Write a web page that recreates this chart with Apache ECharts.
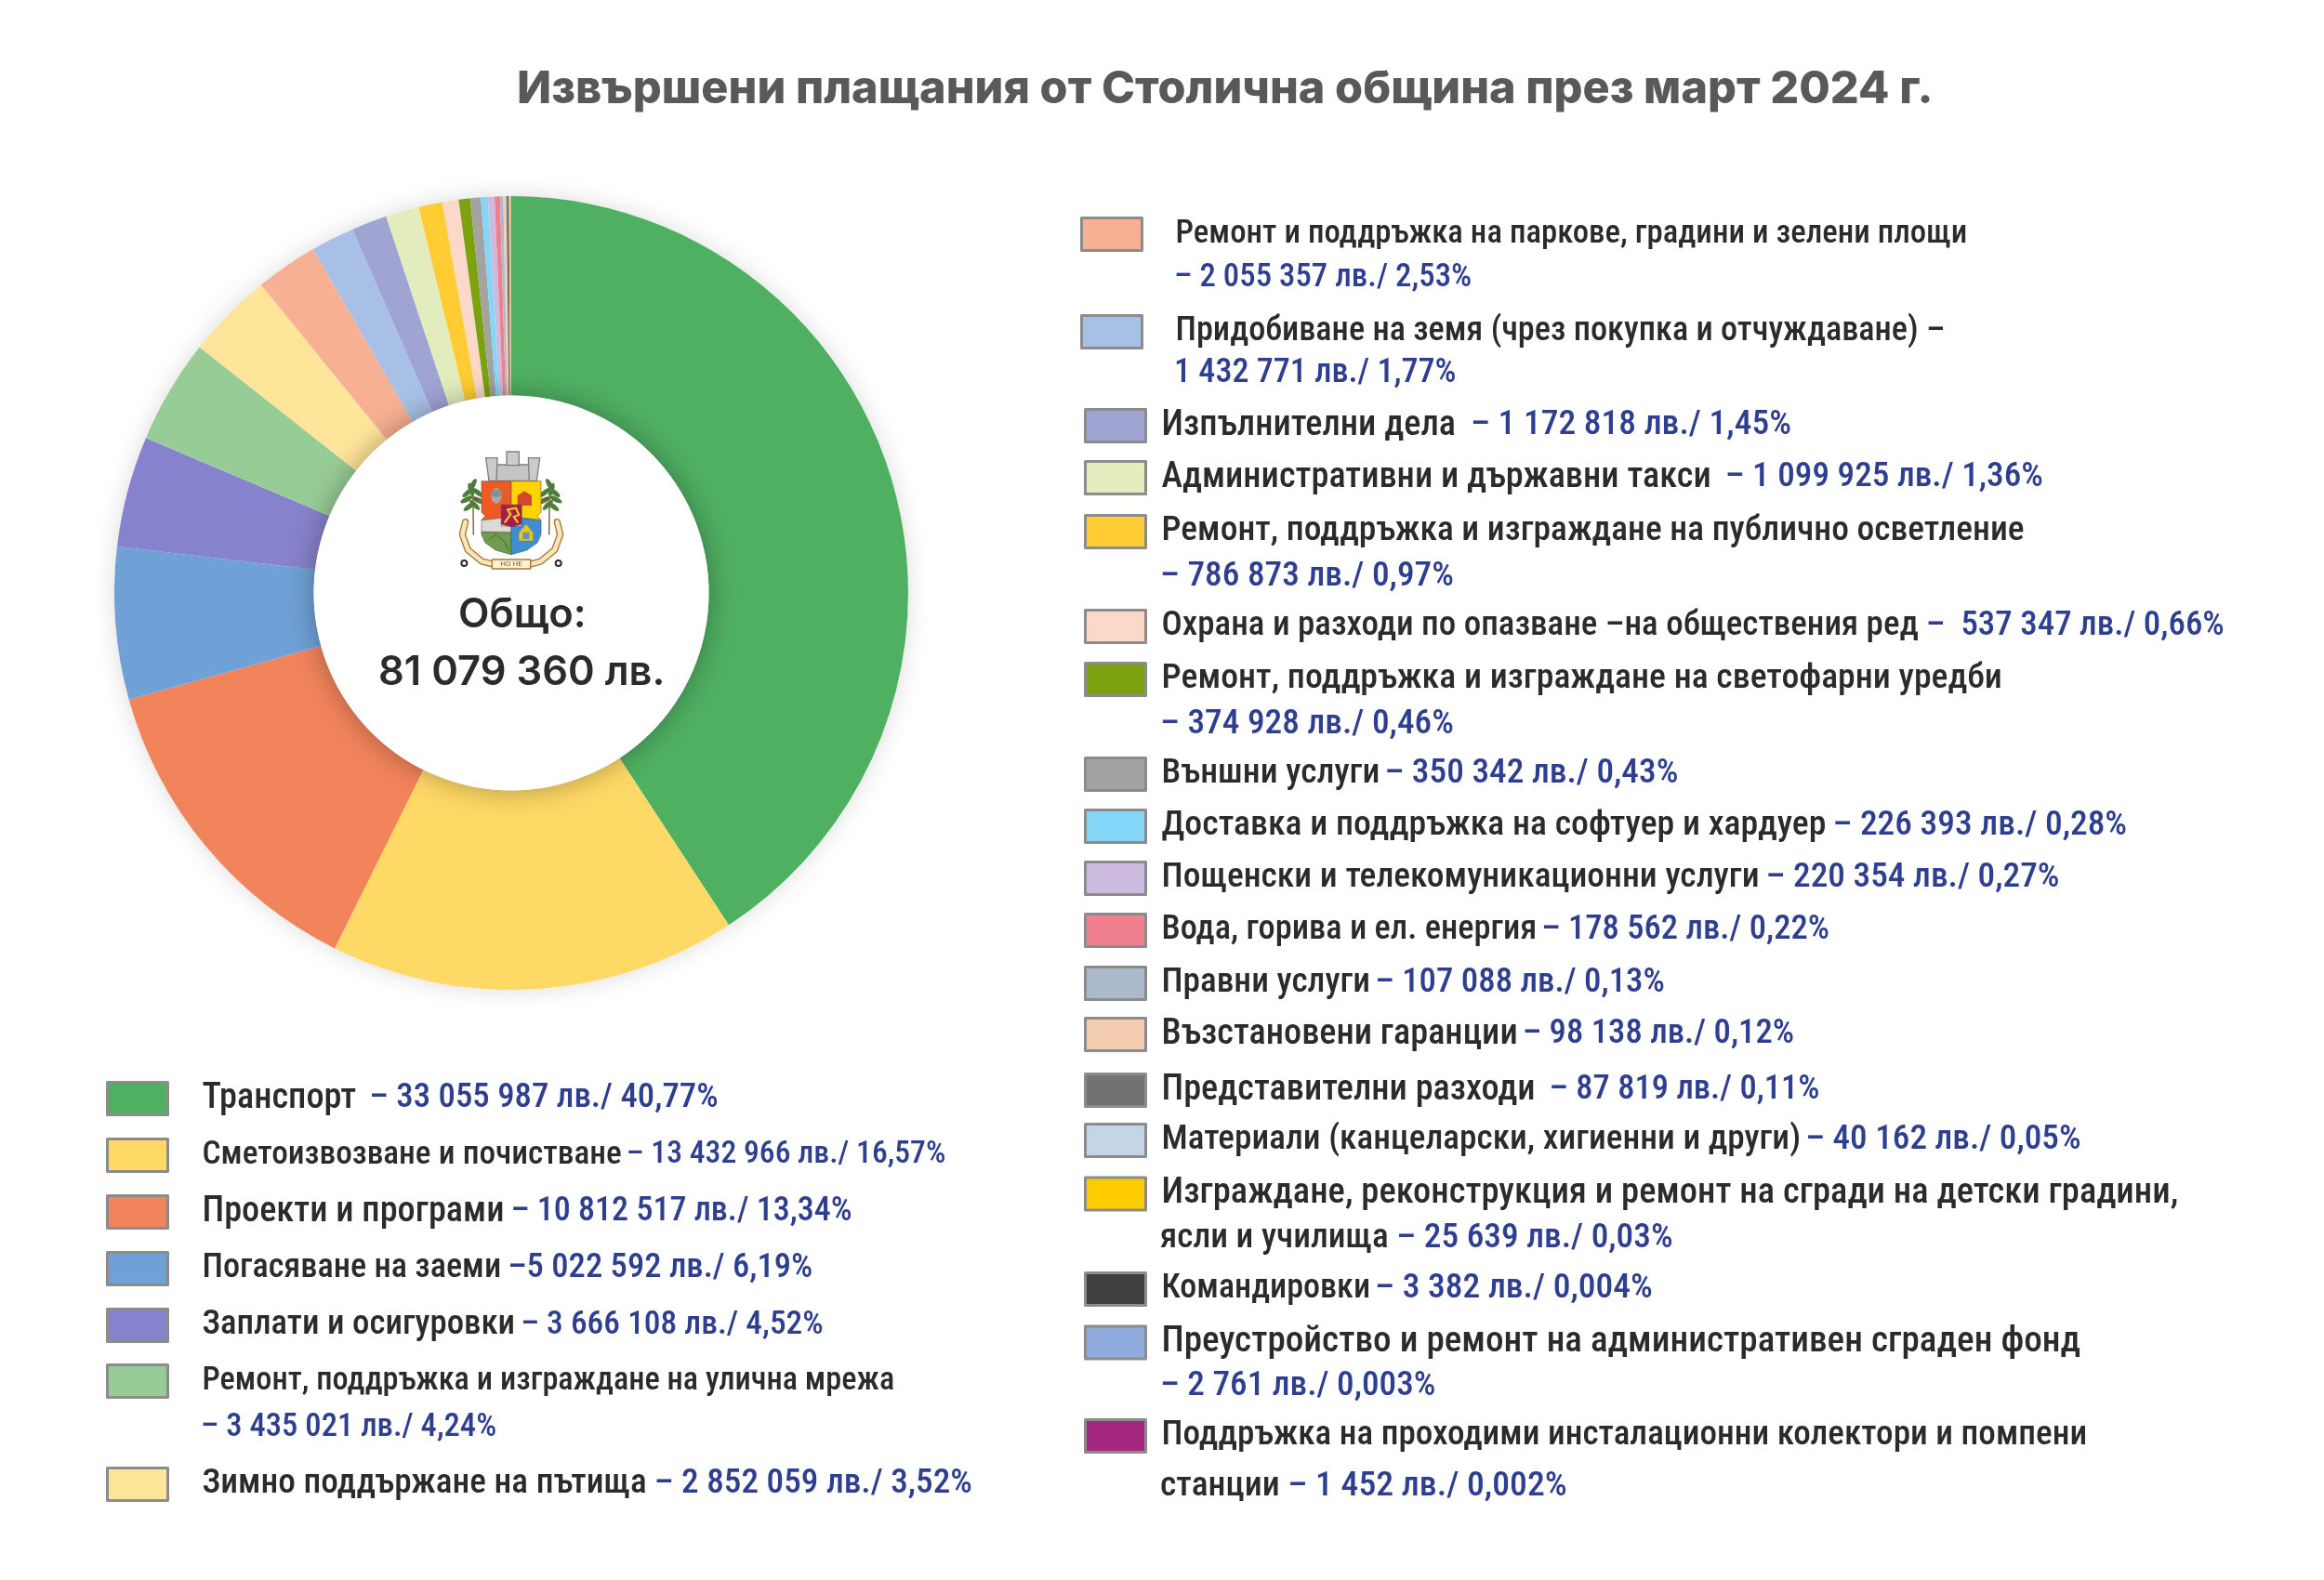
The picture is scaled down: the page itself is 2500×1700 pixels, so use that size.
<!DOCTYPE html>
<html lang="bg"><head><meta charset="utf-8">
<style>html,body{margin:0;padding:0;background:#fff}#c{width:2500px;height:1700px}</style>
<script src="https://cdn.jsdelivr.net/npm/echarts@6/dist/echarts.min.js"></script></head>
<body><div id="c"></div>
<script>
const categories=["Транспорт","Сметоизвозване и почистване","Проекти и програми","Погасяване на заеми","Заплати и осигуровки","Ремонт, поддръжка и изграждане на улична мрежа","Зимно поддържане на пътища","Ремонт и поддръжка на паркове, градини и зелени площи","Придобиване на земя (чрез покупка и отчуждаване) –","Изпълнителни дела","Административни и държавни такси","Ремонт, поддръжка и изграждане на публично осветление","Охрана и разходи по опазване –на обществения ред","Ремонт, поддръжка и изграждане на светофарни уредби","Външни услуги","Доставка и поддръжка на софтуер и хардуер","Пощенски и телекомуникационни услуги","Вода, горива и ел. енергия","Правни услуги","Възстановени гаранции","Представителни разходи","Материали (канцеларски, хигиенни и други)","Изграждане, реконструкция и ремонт на сгради на детски градини,","Командировки","Преустройство и ремонт на административен сграден фонд","Поддръжка на проходими инсталационни колектори и помпени"];
const values=[33055987,13432966,10812517,5022592,3666108,3435021,2852059,2055357,1432771,1172818,1099925,786873,537347,374928,350342,226393,220354,178562,107088,98138,87819,40162,25639,3382,2761,1452];
const amountTexts=["– 33 055 987 лв./ 40,77%","– 13 432 966 лв./ 16,57%","– 10 812 517 лв./ 13,34%","–5 022 592 лв./ 6,19%","– 3 666 108 лв./ 4,52%","– 3 435 021 лв./ 4,24%","– 2 852 059 лв./ 3,52%","– 2 055 357 лв./ 2,53%","1 432 771 лв./ 1,77%","– 1 172 818 лв./ 1,45%","– 1 099 925 лв./ 1,36%","– 786 873 лв./ 0,97%","–  537 347 лв./ 0,66%","– 374 928 лв./ 0,46%","– 350 342 лв./ 0,43%","– 226 393 лв./ 0,28%","– 220 354 лв./ 0,27%","– 178 562 лв./ 0,22%","– 107 088 лв./ 0,13%","– 98 138 лв./ 0,12%","– 87 819 лв./ 0,11%","– 40 162 лв./ 0,05%","– 25 639 лв./ 0,03%","– 3 382 лв./ 0,004%","– 2 761 лв./ 0,003%","– 1 452 лв./ 0,002%"];
const line2Prefix={22:"ясли и училища ",25:"станции "};
const colors=["#4fb062","#ffd966","#f2845c","#6fa1d6","#8782cd","#98cc96","#ffe599","#f7b093","#a8c0e6","#9fa4d3","#e3ecbc","#ffcd33","#fbd8c8","#7ca20f","#a3a3a3","#84d6f7","#cdbbdf","#f1808f","#adbacd","#f4ccb0","#727272","#c3d5e6","#ffcc00","#404040","#8faadc","#a5267f"];
const wrapped=[5,7,8,11,13,22,24,25];
const rowY=[1181,1242,1303,1364,1425,1485,1596,251,356,457,513,571,673,730,832,888,944,1000,1057,1112,1172,1226,1283,1386,1443,1544];
const line2Y={5:1540,7:303,8:405,11:623,13:782,22:1335,24:1494,25:1602};
const nameSize=[38.3,35.3,38.3,36.3,36.8,34.3,37.3,34.8,36.3,38.3,38.3,37.5,37,37.8,37.5,37.8,37.5,36.4,37.3,38.3,38.3,37.3,38.6,36.1,39.2,37.2];
const valueSize=[36.8,33.7,36,36.6,35.4,34.6,37.2,34.8,36.1,37.5,37.2,37.3,36.9,37.3,37.3,37.4,37.3,36.6,36.8,36.7,36.5,37.2,37.3,37.5,37.2,37.7];
const valuePad=[14,5,7,7,6,5,8,5,5,16,15,5,8,5,5,7,7,5,5,5,15,5,5,5,5,5];
const textX=i=>i<7?216:(i<9?1263:1248);
const swatchX=i=>i<7?114:(i<9?1162:1166);
const F="'Liberation Sans Narrow','Roboto Condensed',sans-serif";
const NAME='#2b2b2b',VAL='#2e3f8f';
const legends=categories.map((n,i)=>({
  data:[n],left:swatchX(i),top:rowY[i]-18,orient:'horizontal',padding:0,
  itemWidth:65,itemHeight:35,icon:'rect',selectedMode:false,
  itemStyle:{borderColor:'#8c8c8c',borderWidth:3},
  formatter:()=>wrapped.includes(i)?`{n|${n}}`:`{n|${n}}{v|${amountTexts[i]}}`,
  textStyle:{padding:[0,0,0,textX(i)-swatchX(i)-70],rich:{
    n:{fontFamily:F,fontWeight:500,fontSize:nameSize[i],color:NAME},
    v:{fontFamily:F,fontWeight:500,fontSize:valueSize[i],color:VAL,padding:[0,0,0,valuePad[i]]}}}
}));
const line2=wrapped.map(i=>({type:'text',z:10,left:textX(i),top:line2Y[i]-21,silent:true,
  style:{text:(line2Prefix[i]?`{n|${line2Prefix[i]}}`:'')+`{v|${amountTexts[i]}}`,
    rich:{n:{fontFamily:F,fontWeight:500,fontSize:valueSize[i],fill:NAME},v:{fontFamily:F,fontWeight:500,fontSize:valueSize[i],fill:VAL}}}}));
// simplified coat of arms, local units = 1/3 px
const Z=11;
const P=(points,fill,stroke,lw)=>({type:'polygon',z:Z,shape:{points},style:{fill,stroke:stroke||null,lineWidth:lw||0}});
const L=(points,stroke,lw)=>({type:'polyline',z:Z,shape:{points},style:{fill:null,stroke,lineWidth:lw,lineJoin:'round',lineCap:'round'}});
const E=(cx,cy,rx,ry,fill,rot)=>({type:'ellipse',z:Z,x:cx,y:cy,rotation:rot||0,shape:{cx:0,cy:0,rx,ry},style:{fill}});
const leaves=s=>[[56,125,-.5],[40,150,-.9],[72,150,.9],[36,172,-1.1],[74,175,1.1],[50,140,.3],[62,190,.8],[44,195,-.9]]
  .map(([x,y,r])=>E(s?360-x:x,y,8,22,'#4e7d3c',s?-r:r));
const logo={type:'group',x:490,y:480,scaleX:1/3,scaleY:1/3,silent:true,children:[
  P([[118,60],[250,60],[240,112],[128,112]],'#c4c4c4','#7f7f7f',4),
  P([[165,18],[205,18],[205,62],[165,62]],'#cccccc','#7f7f7f',4),
  P([[98,38],[135,38],[132,112],[108,112]],'#cccccc','#7f7f7f',4),
  P([[235,38],[272,38],[262,112],[238,112]],'#cccccc','#7f7f7f',4),
  L([[56,120],[58,285]],'#6b5b32',4),L([[304,120],[302,285]],'#6b5b32',4),
  ...leaves(false),...leaves(true),
  E(66,172,5,5,'#b8312f'),E(294,172,5,5,'#b8312f'),
  P([[84,113],[180,113],[180,190],[148,190],[148,232],[84,238],[96,226],[84,214]],'#ee5a24','#7a5a3a',2),
  P([[180,113],[276,113],[276,214],[264,226],[276,238],[213,232],[213,190],[180,190]],'#ffd400','#7a5a3a',2),
  P([[84,240],[148,232],[148,258],[180,258],[180,277],[84,277]],'#dadada','#7a5a3a',2),
  P([[84,277],[180,280],[180,350],[130,336],[96,312],[84,285]],'#6f9c4e','#4d5a3a',2),
  P([[213,232],[276,240],[276,285],[264,312],[230,336],[180,350],[180,258],[213,258]],'#3f8fd0','#3d5a7a',2),
  L([[110,300],[130,285],[160,310],[170,335]],'#44683a',3),
  E(132,160,17,25,'#a9a9a9'),E(132,152,20,12,'#8e8e8e'),
  P([[200,160],[222,145],[246,160],[246,192],[200,192]],'#d4472a'),
  P([[205,305],[205,280],[228,252],[250,280],[250,305]],'#e9c319'),P([[217,300],[217,278],[238,278],[238,300]],'#6f93ad'),
  P([[148,190],[213,190],[213,252],[180,260],[148,252]],'#a71b52','#6a3a3a',2),
  L([[160,245],[178,220],[168,205],[195,200],[205,222],[188,228],[200,245]],'#f6c21b',7),
  L([[32,245],[22,285],[40,335],[85,372],[125,382]],'#a9763a',22),
  L([[32,245],[22,285],[40,335],[85,372],[125,382]],'#f6e7b8',14),
  L([[328,245],[338,285],[320,335],[275,372],[240,382]],'#a9763a',22),
  L([[328,245],[338,285],[320,335],[275,372],[240,382]],'#f6e7b8',14),
  P([[118,366],[242,366],[242,396],[118,396]],'#fbf3d6','#a9763a',4),
  {type:'text',z:Z,x:180,y:381,style:{text:'НО НЕ',font:'24px Roboto',fill:'#7a5a2a',align:'center',verticalAlign:'middle'}},
  {type:'circle',z:Z,shape:{cx:28,cy:378,r:9},style:{fill:'none',stroke:'#2b2b2b',lineWidth:6}},
  {type:'circle',z:Z,shape:{cx:332,cy:378,r:9},style:{fill:'none',stroke:'#2b2b2b',lineWidth:6}}
]};
const option={
  backgroundColor:'#fff',animation:false,
  title:{text:'Извършени плащания от Столична община през март 2024 г.',left:556,top:72,padding:0,
    textStyle:{fontFamily:'Inter',fontWeight:800,fontSize:48.6,color:'#58595b'}},
  legend:legends,
  series:[
    {type:'pie',silent:true,center:[550,638],radius:[0,427],z:1,label:{show:false},labelLine:{show:false},
     data:[{value:1,name:'_bg',itemStyle:{color:'#fff',shadowBlur:26,shadowColor:'rgba(0,0,0,0.14)'}}]},
    {type:'pie',silent:true,center:[550,638],radius:[212.5,427],startAngle:90,clockwise:true,z:2,
     label:{show:false},labelLine:{show:false},
     data:categories.map((n,i)=>({name:n,value:values[i],itemStyle:{color:colors[i]}}))},
    {type:'pie',silent:true,center:[550,638],radius:[0,212.5],z:5,label:{show:false},labelLine:{show:false},
     data:[{value:1,name:'_c',itemStyle:{color:'#fff',shadowBlur:30,shadowColor:'rgba(0,0,0,0.32)'}}]}
  ],
  graphic:[
    logo,
    {type:'text',z:10,left:493,top:640,silent:true,style:{text:'Общо:',font:"600 43.5px Inter",fill:'#2b2b2b'}},
    {type:'text',z:10,left:407,top:702,silent:true,style:{text:'81 079 360 лв.',font:"600 43.5px Inter",fill:'#2b2b2b'}},
    ...line2
  ]
};
echarts.init(document.getElementById('c')).setOption(option);
</script></body></html>
